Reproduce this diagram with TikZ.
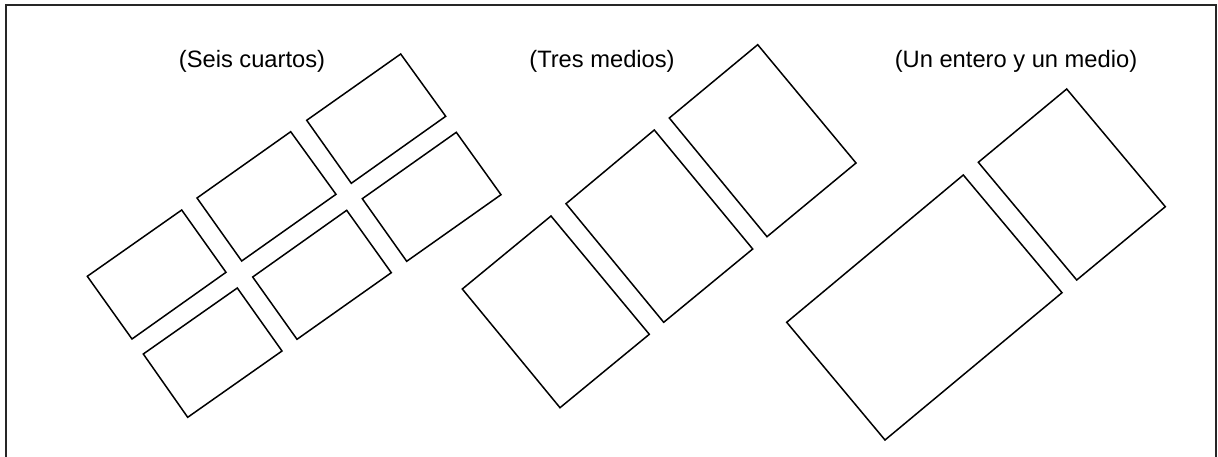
\documentclass[tikz,border=0pt]{standalone}
\usepackage{fontspec}
\setmainfont{Liberation Sans}
\begin{document}
\begin{tikzpicture}[x=1pt,y=-1pt,
  piece/.style={draw=black,line width=1.5pt,line join=miter,fill=white},
  frameline/.style={draw=black!85,line width=1.8pt},
  caption/.style={font=\fontsize{23.7}{28}\selectfont,inner sep=0pt,anchor=base}]
\useasboundingbox (0,0) rectangle (1218,457);
\fill[white] (0,0) rectangle (1218,457);
% open frame (bottom edge outside the page)
\draw[frameline] (6,460) -- (6,5) -- (1216,5) -- (1216,460);

% captions
\node[caption] (c1) at (252,68) {(Seis cuartos)};
\node[caption] (c2) at (602,68) {(Tres medios)};
\node[caption] (c3) at (1016,68) {(Un entero y un medio)};

% six quarters
\draw[piece] (400.7,54) -- (445.7,116.3) -- (351.3,183.3) -- (306.7,120.3) -- cycle;
\draw[piece] (290.7,131.7) -- (336,194.3) -- (241.7,261) -- (197,198) -- cycle;
\draw[piece] (181.7,210) -- (226,272.3) -- (132,339) -- (87.3,276.3) -- cycle;
\draw[piece] (456.3,132.3) -- (501,194.7) -- (406.7,261.3) -- (362.3,198.7) -- cycle;
\draw[piece] (346.7,210.3) -- (391.3,272.7) -- (297,339.3) -- (252.7,277) -- cycle;
\draw[piece] (237.3,288) -- (282,351) -- (187.7,417.3) -- (143.3,354) -- cycle;

% three halves
\draw[piece] (551,216) -- (649.3,334.3) -- (560,407.7) -- (462.3,289) -- cycle;
\draw[piece] (654.3,130) -- (752.7,249) -- (663.7,322.3) -- (566,203.7) -- cycle;
\draw[piece] (757.7,44.7) -- (856,163) -- (767,236.7) -- (669.3,118) -- cycle;

% one whole and one half
\draw[piece] (963.3,175) -- (1062,292.7) -- (885,440) -- (786.7,322.3) -- cycle;
\draw[piece] (1066.7,89) -- (1165.3,206.7) -- (1076.7,280) -- (978.3,162.3) -- cycle;
\end{tikzpicture}
\end{document}
